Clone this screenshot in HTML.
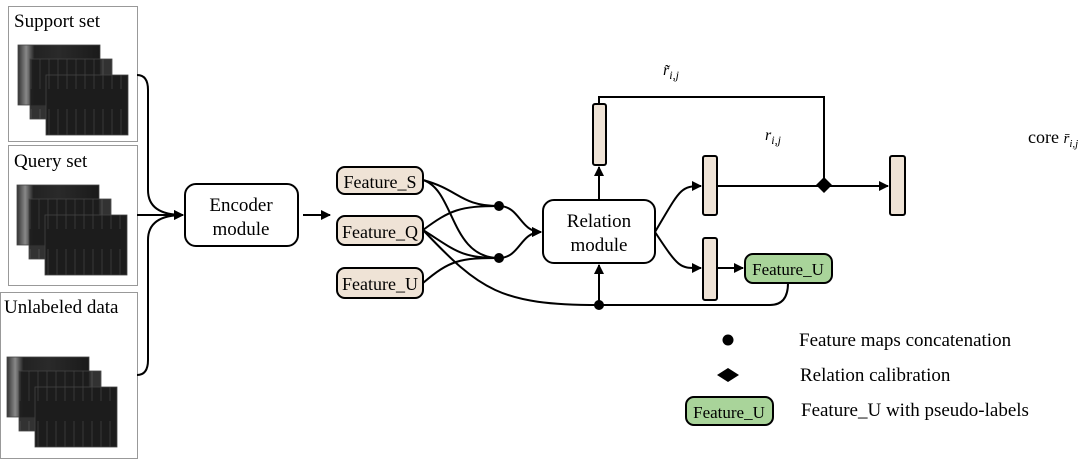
<!DOCTYPE html>
<html><head><meta charset="utf-8"><style>
body{margin:0;background:#fff}
svg{display:block;font-family:"Liberation Serif",serif}
</style></head><body>
<svg width="1080" height="466" viewBox="0 0 1080 466" xmlns="http://www.w3.org/2000/svg">
<defs>
<marker id="a" markerWidth="10" markerHeight="10" refX="9" refY="5" orient="auto" markerUnits="userSpaceOnUse"><path d="M0,0 L10,5 L0,10 z" fill="#000"/></marker>
<linearGradient id="sp" x1="0" x2="1" y1="0" y2="0">
<stop offset="0" stop-color="#333"/><stop offset="0.1" stop-color="#888"/><stop offset="0.2" stop-color="#222"/><stop offset="0.5" stop-color="#2a2a2a"/><stop offset="1" stop-color="#1a1a1a"/></linearGradient>
<pattern id="str" width="9" height="60" patternUnits="userSpaceOnUse"><rect width="9" height="60" fill="#1c1c1c"/><rect x="3" y="4" width="2" height="40" fill="#2a2a2a"/></pattern>
<g id="st">
<rect x="0" y="0" width="82" height="60" fill="url(#sp)" stroke="#444" stroke-width="0.8"/>
<rect x="12" y="14" width="82" height="60" fill="url(#str)" fill-opacity="0.9" stroke="#444" stroke-width="0.8"/>
<rect x="28" y="30" width="82" height="60" fill="url(#str)" stroke="#444" stroke-width="0.8"/>
</g>
</defs>
<g fill="none" stroke="#999" stroke-width="1">
<rect x="8.5" y="6.5" width="129" height="135"/>
<rect x="8.5" y="145.5" width="129" height="140"/>
<rect x="0.5" y="292.5" width="137" height="166"/>
</g>
<g font-size="19" fill="#000">
<text x="14" y="27">Support set</text>
<text x="14" y="167">Query set</text>
<text x="4" y="313">Unlabeled data</text>
</g>
<use href="#st" x="18" y="45"/>
<use href="#st" x="17" y="185"/>
<use href="#st" x="7" y="357"/>
<g fill="none" stroke="#000" stroke-width="2">
<path d="M137,75 Q148,75 148,90 L148,190 Q148,215 183,215" marker-end="url(#a)"/>
<path d="M137,215 L183,215" marker-end="url(#a)"/>
<path d="M137,375 Q148,375 148,360 L148,240 Q148,215 183,215"/>
<path d="M303,215 L330,215" marker-end="url(#a)"/>
<path d="M423,180 C460,190 460,206 499,206"/>
<path d="M423,180 C455,190 450,258 499,258"/>
<path d="M423,230 C450,210 460,206 499,206"/>
<path d="M423,230 C455,250 460,258 499,258"/>
<path d="M423,283 C450,260 460,258 499,258"/>
<path d="M499,206 C520,206 520,232 541,232" marker-end="url(#a)"/>
<path d="M499,258 C520,258 520,232 541,232" marker-end="url(#a)"/>
<path d="M423,230 C480,290 500,305 599,305 L770,305 Q788,305 788,283"/>
<path d="M599,305 L599,265" marker-end="url(#a)"/>
<path d="M599,200 L599,167" marker-end="url(#a)"/>
<path d="M599,104 L599,97 L824,97 L824,185"/>
<path d="M655,232 C680,190 680,186 701,186" marker-end="url(#a)"/>
<path d="M655,232 C680,270 680,268 701,268" marker-end="url(#a)"/>
<path d="M717,186 L888,186" marker-end="url(#a)"/>
<path d="M717,268 L743,268" marker-end="url(#a)"/>
</g>
<g stroke="#000" stroke-width="2">
<rect x="185" y="184" width="113" height="62" rx="11" fill="#fff"/>
<rect x="543" y="200" width="112" height="63" rx="11" fill="#fff"/>
<rect x="337" y="167" width="86" height="27" rx="8" fill="#efe3d6"/>
<rect x="337" y="216" width="86" height="29" rx="8" fill="#efe3d6"/>
<rect x="337" y="268" width="86" height="30" rx="8" fill="#efe3d6"/>
<rect x="593" y="104" width="13" height="61" rx="2" fill="#efe3d6"/>
<rect x="703" y="156" width="14" height="59" rx="2" fill="#efe3d6"/>
<rect x="703" y="238" width="14" height="62" rx="2" fill="#efe3d6"/>
<rect x="890" y="156" width="15" height="59" rx="2" fill="#efe3d6"/>
<rect x="745" y="254" width="87" height="29" rx="8" fill="#a9d49a"/>
<rect x="686" y="397" width="87" height="28" rx="8" fill="#a9d49a"/>
</g>
<g fill="#000">
<circle cx="499" cy="206" r="5"/><circle cx="499" cy="258" r="5"/><circle cx="599" cy="305" r="5"/>
<path d="M824,177 L832,185 L824,193 L816,185 z"/>
<circle cx="728" cy="340" r="5.5"/>
<path d="M728,368 L739,375 L728,382 L717,375 z"/>
</g>
<g font-size="19" fill="#000" text-anchor="middle">
<text x="241" y="211">Encoder</text><text x="241" y="235">module</text>
<text x="599" y="227">Relation</text><text x="599" y="251">module</text>
<text x="380" y="188" font-size="18">Feature_S</text>
<text x="380" y="238" font-size="18">Feature_Q</text>
<text x="380" y="290" font-size="18">Feature_U</text>
<text x="788" y="275" font-size="17">Feature_U</text>
<text x="729" y="418" font-size="17">Feature_U</text>
</g>
<g font-size="16" font-style="italic" fill="#000">
<text x="663" y="75">r̃<tspan font-size="12" dy="4">i,j</tspan></text>
<text x="765" y="140">r<tspan font-size="12" dy="4">i,j</tspan></text>
</g>
<text x="1028" y="143" font-size="18">core <tspan font-style="italic" font-size="15">r̄<tspan font-size="11" dy="4">i,j</tspan></tspan></text>
<g font-size="19" fill="#000">
<text x="799" y="346">Feature maps concatenation</text>
<text x="800" y="381">Relation calibration</text>
<text x="801" y="416">Feature_U with pseudo-labels</text>
</g>
</svg>
</body></html>
